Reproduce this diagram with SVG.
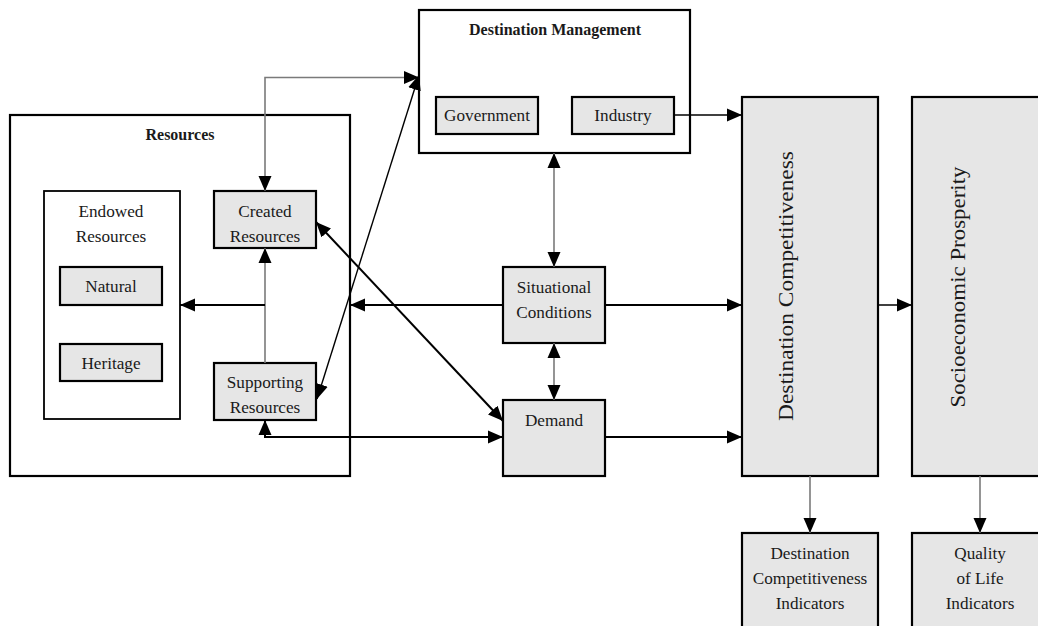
<svg xmlns="http://www.w3.org/2000/svg" width="1038" height="626" viewBox="0 0 1038 626">
  <style>
    .frame { fill: #ffffff; stroke: #000000; stroke-width: 2.2; }
    .box { fill: #e6e6e6; stroke: #000000; stroke-width: 2.2; }
    .inner { fill: #ffffff; stroke: #000000; stroke-width: 1.8; }
    text { font-family: "Liberation Serif", "Times New Roman", serif; fill: #1a1a1a; text-anchor: middle; }
    .lbl { font-size: 17.2px; }
    .title { font-size: 16px; font-weight: bold; }
    .big { font-size: 21px; }
    .c { fill: none; stroke: #000000; stroke-width: 2; }
    .thin { fill: none; stroke: #000000; stroke-width: 1.4; }
    .grey { fill: none; stroke: #7a7a7a; stroke-width: 1.6; }
  </style>
  <defs>
    <marker id="arrow" markerUnits="userSpaceOnUse" markerWidth="16" markerHeight="14" refX="15" refY="6.5" orient="auto-start-reverse" viewBox="0 0 16 13">
      <path d="M0,0 L15,6.5 L0,13 Z" fill="#000000"/>
    </marker>
  </defs>

  <rect width="1038" height="626" fill="#ffffff"/>

  <!-- Resources cluster -->
  <g id="resources">
    <rect class="frame" x="10" y="115" width="340" height="361"/>
    <text class="title" x="180" y="140">Resources</text>
  </g>
  <g id="endowed">
    <rect class="inner" x="44" y="191" width="136" height="228"/>
    <text class="lbl" x="111" y="217">Endowed</text>
    <text class="lbl" x="111" y="242">Resources</text>
  </g>
  <g id="natural">
    <rect class="box" x="60" y="267" width="102" height="38"/>
    <text class="lbl" x="111" y="292">Natural</text>
  </g>
  <g id="heritage">
    <rect class="box" x="60" y="344" width="102" height="37"/>
    <text class="lbl" x="111" y="369">Heritage</text>
  </g>
  <g id="created">
    <rect class="box" x="214" y="191" width="102" height="57"/>
    <text class="lbl" x="265" y="217">Created</text>
    <text class="lbl" x="265" y="242">Resources</text>
  </g>
  <g id="supporting">
    <rect class="box" x="214" y="363" width="102" height="57"/>
    <text class="lbl" x="265" y="388">Supporting</text>
    <text class="lbl" x="265" y="413">Resources</text>
  </g>

  <!-- Destination management -->
  <g id="management">
    <rect class="frame" x="419" y="10" width="271" height="143"/>
    <text class="title" x="555" y="35">Destination Management</text>
  </g>
  <g id="government">
    <rect class="box" x="436" y="97" width="102" height="37"/>
    <text class="lbl" x="487" y="121">Government</text>
  </g>
  <g id="industry">
    <rect class="box" x="572" y="97" width="102" height="37"/>
    <text class="lbl" x="623" y="121">Industry</text>
  </g>

  <!-- Middle column -->
  <g id="situational">
    <rect class="box" x="503" y="267" width="102" height="76"/>
    <text class="lbl" x="554" y="293">Situational</text>
    <text class="lbl" x="554" y="318">Conditions</text>
  </g>
  <g id="demand">
    <rect class="box" x="503" y="400" width="102" height="76"/>
    <text class="lbl" x="554" y="426">Demand</text>
  </g>

  <!-- Outcomes -->
  <g id="competitiveness">
    <rect class="box" x="742" y="97" width="136" height="379"/>
    <text class="big" transform="translate(793,286) rotate(-90)" textLength="270" lengthAdjust="spacingAndGlyphs">Destination Competitiveness</text>
  </g>
  <g id="prosperity">
    <rect class="box" x="912" y="97" width="136" height="379"/>
    <text class="big" transform="translate(965,287) rotate(-90)" textLength="241" lengthAdjust="spacingAndGlyphs">Socioeconomic Prosperity</text>
  </g>
  <g id="competitiveness-indicators">
    <rect class="box" x="742" y="533" width="136" height="100"/>
    <text class="lbl" x="810" y="559">Destination</text>
    <text class="lbl" x="810" y="584">Competitiveness</text>
    <text class="lbl" x="810" y="609">Indicators</text>
  </g>
  <g id="quality-indicators">
    <rect class="box" x="912" y="533" width="136" height="100"/>
    <text class="lbl" x="980" y="559">Quality</text>
    <text class="lbl" x="980" y="584">of Life</text>
    <text class="lbl" x="980" y="609">Indicators</text>
  </g>

  <!-- Connectors -->
  <g id="connectors">
    <path class="grey" d="M265,191 V77.5 H419" marker-start="url(#arrow)" marker-end="url(#arrow)"/>
    <path class="thin" d="M317,399 L419,75" marker-start="url(#arrow)" marker-end="url(#arrow)"/>
    <path class="grey" d="M265,363 V248" marker-end="url(#arrow)"/>
    <path class="c" d="M265,305 H180" marker-end="url(#arrow)"/>
    <path class="c" d="M503,305 H350" marker-end="url(#arrow)"/>
    <path class="c" d="M605,305 H742" marker-end="url(#arrow)"/>
    <path class="c" d="M605,437 H742" marker-end="url(#arrow)"/>
    <path class="c" d="M265,420 V437 H503" marker-start="url(#arrow)" marker-end="url(#arrow)"/>
    <path class="c" d="M316,222 L503,421" marker-start="url(#arrow)" marker-end="url(#arrow)"/>
    <path class="grey" d="M554,153 V267" marker-start="url(#arrow)" marker-end="url(#arrow)"/>
    <path class="grey" d="M554,343 V400" marker-start="url(#arrow)" marker-end="url(#arrow)"/>
    <path class="thin" d="M674,115 H742" marker-end="url(#arrow)"/>
    <path class="thin" d="M878,305 H912" marker-end="url(#arrow)"/>
    <path class="grey" d="M810,476 V533" marker-end="url(#arrow)"/>
    <path class="grey" d="M980,476 V533" marker-end="url(#arrow)"/>
  </g>
</svg>
